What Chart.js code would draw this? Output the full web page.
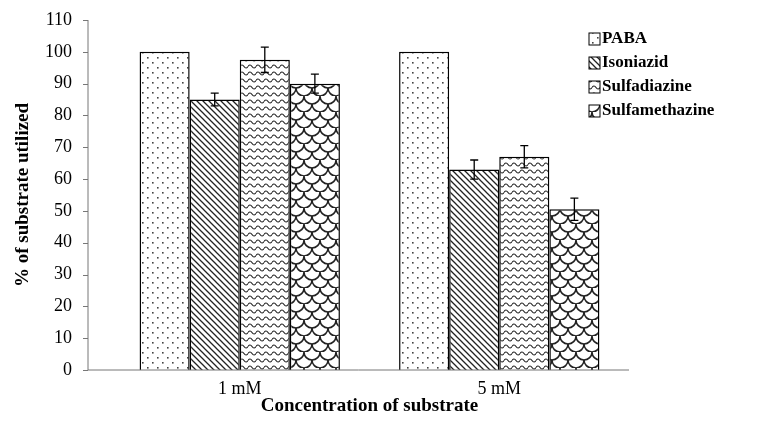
<!DOCTYPE html>
<html><head><meta charset="utf-8">
<script src="https://cdn.jsdelivr.net/npm/chart.js@4"></script>
<style>body{margin:0;background:#fff}#wrap{width:769px;height:429px}</style>
</head><body><div id="wrap"><canvas id="c"></canvas></div>
<script>
const categories = ['1 mM', '5 mM'];
const seriesNames = ['PABA', 'Isoniazid', 'Sulfadiazine', 'Sulfamethazine'];
const paba = [100, 100];
const isoniazid = [85, 63];
const sulfadiazine = [97.5, 67];
const sulfamethazine = [90, 50.5];
const errIsoniazid = [2, 3];
const errSulfadiazine = [4, 3.5];
const errSulfamethazine = [3, 3.5];
const errPaba = [0, 0];

// pattern tiles
function tile(w, h, draw) {
    const c = document.createElement('canvas');
    c.width = w; c.height = h;
    const g = c.getContext('2d');
    g.fillStyle = '#fff'; g.fillRect(0, 0, w, h);
    draw(g);
    return document.getElementById('c').getContext('2d').createPattern(c, 'repeat');
}
const dots = tile(10, 10, g => {
    g.fillStyle = '#444';
    g.fillRect(2, 2, 1.6, 1.6); g.fillRect(7, 7, 1.6, 1.6);
});
const diag = tile(6, 6, g => {
    g.strokeStyle = '#222'; g.lineWidth = 1.3;
    g.beginPath();
    g.moveTo(-1, -1); g.lineTo(7, 7);
    g.moveTo(-1, 5); g.lineTo(1, 7);
    g.moveTo(5, -1); g.lineTo(7, 1);
    g.stroke();
});
const waves = tile(8, 7, g => {
    g.strokeStyle = '#222'; g.lineWidth = 1.2;
    g.beginPath();
    g.moveTo(0, 3.5);
    g.quadraticCurveTo(2, 0.5, 4, 3.5);
    g.quadraticCurveTo(6, 6.5, 8, 3.5);
    g.stroke();
});
const scales = tile(16, 16, g => {
    g.strokeStyle = '#222'; g.lineWidth = 1.6;
    g.beginPath();
    g.arc(8, 0, 8, 0, Math.PI);
    g.stroke();
    g.beginPath(); g.arc(0, 8, 8, 0, Math.PI); g.stroke();
    g.beginPath(); g.arc(16, 8, 8, 0, Math.PI); g.stroke();
    g.beginPath(); g.arc(8, 16, 8, Math.PI, 0, true); g.stroke();
});
const fills = [dots, diag, waves, scales];
const errs = [errPaba, errIsoniazid, errSulfadiazine, errSulfamethazine];

const serif = '"Liberation Serif", "DejaVu Serif", serif';

const overlay = {
    id: 'overlay',
    afterDatasetsDraw(chart) {
        const ctx = chart.ctx, y = chart.scales.y, a = chart.chartArea;
        ctx.save();
        ctx.strokeStyle = '#000'; ctx.lineWidth = 1.3;
        // error bars
        chart.data.datasets.forEach((ds, i) => {
            chart.getDatasetMeta(i).data.forEach((bar, j) => {
                const e = errs[i][j];
                if (!e) return;
                const yt = y.getPixelForValue(ds.data[j] + e);
                const yb = y.getPixelForValue(ds.data[j] - e);
                ctx.beginPath();
                ctx.moveTo(bar.x, yt); ctx.lineTo(bar.x, yb);
                ctx.moveTo(bar.x - 4, yt); ctx.lineTo(bar.x + 4, yt);
                ctx.moveTo(bar.x - 4, yb); ctx.lineTo(bar.x + 4, yb);
                ctx.stroke();
            });
        });
        // axes
        const ax = 88;
        ctx.strokeStyle = '#777'; ctx.lineWidth = 1;
        ctx.beginPath();
        ctx.moveTo(ax, a.top); ctx.lineTo(ax, a.bottom); ctx.lineTo(a.right, a.bottom);
        y.ticks.forEach(t => {
            const p = Math.round(y.getPixelForValue(t.value)) + 0.5;
            ctx.moveTo(ax - 5, p); ctx.lineTo(ax, p);
        });
        ctx.stroke();
        // legend
        ctx.font = 'bold 17px ' + serif;
        ctx.textBaseline = 'middle';
        seriesNames.forEach((n, i) => {
            const ly = 39 + i * 24;
            ctx.fillStyle = fills[i];
            ctx.fillRect(589, ly - 6, 11, 12);
            ctx.strokeStyle = '#000';
            ctx.strokeRect(589, ly - 6, 11, 12);
            ctx.fillStyle = '#000';
            ctx.fillText(n, 602, ly);
        });
        ctx.restore();
    }
};

new Chart(document.getElementById('c'), {
    type: 'bar',
    data: {
        labels: categories,
        datasets: [paba, isoniazid, sulfadiazine, sulfamethazine].map((d, i) => ({
            label: seriesNames[i],
            data: d,
            backgroundColor: fills[i],
            borderColor: '#000',
            borderWidth: 1.5,
            barPercentage: 1,
            categoryPercentage: 0.772
        }))
    },
    options: {
        responsive: true,
        maintainAspectRatio: false,
        animation: false,
        layout: { padding: { top: 20, right: 140, bottom: 12, left: 0 } },
        plugins: { legend: { display: false }, tooltip: { enabled: false } },
        scales: {
            x: {
                grid: { display: false },
                border: { display: false },
                ticks: { color: '#000', font: { family: serif, size: 18 }, padding: 0 },
                title: { display: true, text: 'Concentration of substrate', color: '#000',
                         font: { family: serif, size: 19, weight: 'bold' }, padding: 0 },
                afterFit: s => { s.height = 47; s.paddingLeft = 0; s.paddingRight = 0; }
            },
            y: {
                min: 0, max: 110,
                grid: { display: false },
                border: { display: false },
                ticks: { stepSize: 10, color: '#000', font: { family: serif, size: 18 }, padding: 30 },
                title: { display: true, text: '% of substrate utilized', color: '#000',
                         font: { family: serif, size: 19, weight: 'bold' }, padding: 12 },
                afterFit: s => { s.width = 110; s.paddingTop = 0; s.paddingBottom = 0; }
            }
        }
    },
    plugins: [overlay]
});
</script></body></html>
